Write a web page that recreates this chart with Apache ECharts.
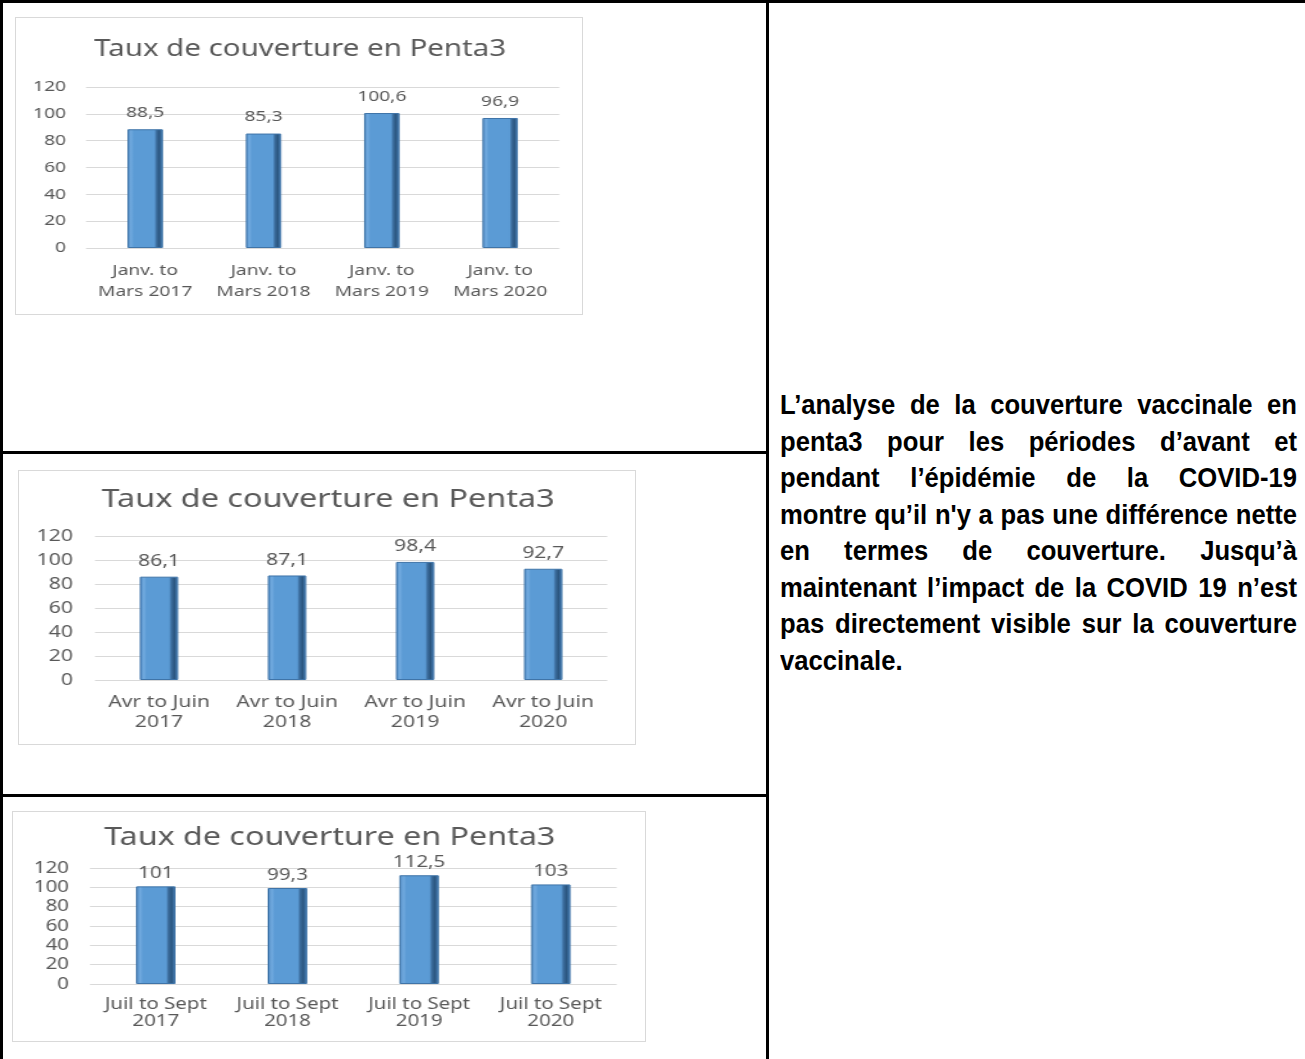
<!DOCTYPE html>
<html>
<head>
<meta charset="utf-8">
<script src="https://cdn.jsdelivr.net/npm/echarts@6/dist/echarts.min.js"></script>
<style>
  html, body { margin: 0; padding: 0; background: #fff; }
  .page { position: relative; width: 1305px; height: 1059px; overflow: hidden; }
  .line { position: absolute; background: #000; }
  .box { position: absolute; border: 1px solid #d9d9d9; box-sizing: border-box; background: #fff; overflow: hidden; }
  /* the source charts are stretched sideways, so the drawing surface is too */
  .box .plot { position: absolute; left: 0; top: 0; height: 100%; transform-origin: 0 0; }
  .texte {
    position: absolute; left: 780px; top: 387px; width: 565px;
    transform: scaleX(0.915); transform-origin: 0 0;
    font-family: "Liberation Sans Narrow", "Arial Narrow", "Liberation Sans", Arial, sans-serif;
    font-weight: bold; font-size: 28px; color: #000;
  }
  .texte div { height: 36.5px; line-height: 36.5px; text-align: justify; text-align-last: justify; white-space: nowrap; }
  .texte div.last { text-align: left; text-align-last: left; }
</style>
</head>
<body>
<div class="page">
  <div class="line" style="left:0;top:0;width:1305px;height:3px"></div>
  <div class="line" style="left:0;top:0;width:3px;height:1059px"></div>
  <div class="line" style="left:766px;top:0;width:3px;height:1059px"></div>
  <div class="line" style="left:0;top:451px;width:768px;height:3px"></div>
  <div class="line" style="left:0;top:794px;width:768px;height:3px"></div>

  <div class="box" style="left:15px;top:17px;width:568px;height:298px"><div id="c1" class="plot"></div></div>
  <div class="box" style="left:18px;top:470px;width:618px;height:275px"><div id="c2" class="plot"></div></div>
  <div class="box" style="left:12px;top:811px;width:634px;height:231px"><div id="c3" class="plot"></div></div>

  <div class="texte">
    <div>L’analyse de la couverture vaccinale en</div>
    <div>penta3 pour les périodes d’avant et</div>
    <div>pendant l’épidémie de la COVID-19</div>
    <div>montre qu’il n'y a pas une différence nette</div>
    <div>en termes de couverture. Jusqu’à</div>
    <div>maintenant l’impact de la COVID 19 n’est</div>
    <div>pas directement visible sur la couverture</div>
    <div class="last">vaccinale.</div>
  </div>
</div>

<script>
const titre = 'Taux de couverture en Penta3'

const periodes1 = ['Janv. to\nMars 2017', 'Janv. to\nMars 2018', 'Janv. to\nMars 2019', 'Janv. to\nMars 2020']
const taux1 = [88.5, 85.3, 100.6, 96.9]

const periodes2 = ['Avr to Juin\n2017', 'Avr to Juin\n2018', 'Avr to Juin\n2019', 'Avr to Juin\n2020']
const taux2 = [86.1, 87.1, 98.4, 92.7]

const periodes3 = ['Juil to Sept\n2017', 'Juil to Sept\n2018', 'Juil to Sept\n2019', 'Juil to Sept\n2020']
const taux3 = [101, 99.3, 112.5, 103]

const yMin = 0
const yMax = 120
const yPas = 20

const police = '"Noto Sans", sans-serif'
const gris = '#595959'
const etirement = 1.28 // horizontal stretch of the original pictures

// bevelled bar look
const barColor = new echarts.graphic.LinearGradient(0, 0, 1, 0, [
  { offset: 0, color: '#4a84bd' },
  { offset: 0.1, color: '#71aadf' },
  { offset: 0.18, color: '#5b9bd5' },
  { offset: 0.76, color: '#5b9bd5' },
  { offset: 0.82, color: '#3b6c9c' },
  { offset: 0.9, color: '#2b5680' },
  { offset: 1, color: '#4d86bf' }
])

function makeChart(id, categories, values, cfg) {
  const el = document.getElementById(id)
  const boxWidth = el.parentNode.clientWidth + 2
  el.style.width = (boxWidth / etirement) + 'px'
  el.style.transform = 'scaleX(' + etirement + ')'

  const chart = echarts.init(el)
  chart.setOption({
    animation: false,
    textStyle: { fontFamily: police },
    title: {
      text: titre,
      left: 'center',
      top: cfg.titleTop,
      textStyle: { fontFamily: police, fontWeight: 'normal', fontSize: cfg.titleSize, color: gris }
    },
    grid: {
      left: cfg.grid.left / etirement,
      right: cfg.grid.right / etirement,
      top: cfg.grid.top,
      bottom: cfg.grid.bottom
    },
    xAxis: {
      type: 'category',
      data: categories,
      axisLine: { show: false },
      axisTick: { show: false },
      axisLabel: {
        color: gris,
        fontSize: cfg.fontSize,
        lineHeight: cfg.lineHeight,
        margin: cfg.xMargin,
        interval: 0
      }
    },
    yAxis: {
      type: 'value',
      min: yMin,
      max: yMax,
      interval: yPas,
      axisLine: { show: false },
      axisTick: { show: false },
      axisLabel: { color: gris, fontSize: cfg.fontSize, margin: cfg.yMargin / etirement },
      splitLine: { lineStyle: { color: '#d9d9d9', width: 1 } }
    },
    series: [
      {
        type: 'bar',
        data: values,
        barWidth: '30%',
        itemStyle: {
          color: barColor,
          borderColor: '#3f74a8',
          borderWidth: 1
        },
        label: {
          show: true,
          position: 'top',
          distance: cfg.labelDist,
          color: gris,
          fontSize: cfg.fontSize,
          formatter: p => String(p.value).replace('.', ',')
        }
      }
    ]
  })
}

makeChart('c1', periodes1, taux1, {
  titleTop: 15, titleSize: 23,
  grid: { left: 70, right: 25, top: 69, bottom: 66 },
  fontSize: 15, lineHeight: 21, xMargin: 12, yMargin: 20, labelDist: 9
})
makeChart('c2', periodes2, taux2, {
  titleTop: 11, titleSize: 25.3,
  grid: { left: 76, right: 30, top: 65, bottom: 64 },
  fontSize: 16.5, lineHeight: 20, xMargin: 12, yMargin: 22, labelDist: 7
})
makeChart('c3', periodes3, taux3, {
  titleTop: 8, titleSize: 25.2,
  grid: { left: 77, right: 30, top: 56, bottom: 57 },
  fontSize: 16, lineHeight: 17, xMargin: 12, yMargin: 21, labelDist: 5
})
</script>
</body>
</html>
